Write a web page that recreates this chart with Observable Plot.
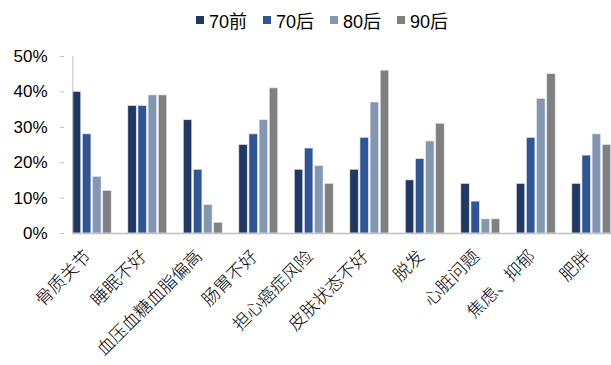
<!DOCTYPE html>
<html>
<head>
<meta charset="utf-8">
<script src="https://cdn.jsdelivr.net/npm/d3@7"></script>
<script src="https://cdn.jsdelivr.net/npm/@observablehq/plot@0.6"></script>
<style>
  html, body { margin: 0; padding: 0; background: #fff; overflow: hidden; }
  #legend {
    height: 38px; display: flex; align-items: center; padding-left: 196px; padding-top: 2px; box-sizing: border-box;
    font-family: "Liberation Sans", Arial, "Noto Sans CJK SC", sans-serif;
    font-size: 18px; color: #000;
  }
  #legend .item { display: flex; align-items: center; margin-right: 16px; }
  #legend .sw { width: 8px; height: 8px; margin-right: 5px; }
</style>
</head>
<body>
<div id="legend"></div>
<div id="chart"></div>
<script>
// Health concerns by generation (share of respondents, %)
const categories = ["骨质关节", "睡眠不好", "血压血糖血脂偏高", "肠胃不好", "担心癌症风险",
                    "皮肤状态不好", "脱发", "心脏问题", "焦虑、抑郁", "肥胖"];
const series = ["70前", "70后", "80后", "90后"];
const colors = ["#1f3864", "#2f5597", "#8497b0", "#808080"];

const pre70  = [40, 36, 32, 25, 18, 18, 15, 14, 14, 14];
const post70 = [28, 36, 18, 28, 24, 27, 21,  9, 27, 22];
const post80 = [16, 39,  8, 32, 19, 37, 26,  4, 38, 28];
const post90 = [12, 39,  3, 41, 14, 46, 31,  4, 45, 25];
const yTicks = [0, 10, 20, 30, 40, 50];

const values = [pre70, post70, post80, post90];
const data = categories.flatMap((c, i) =>
  series.map((s, j) => ({category: c, series: s, value: values[j][i]})));

// Legend
const legend = d3.select("#legend");
series.forEach((s, j) => {
  const item = legend.append("div").attr("class", "item");
  item.append("div").attr("class", "sw").style("background", colors[j]);
  item.append("span").text(s);
});

const W = 619, ML = 64, MR = 0;
const fxPadOuter = 0.15;
// offset of the first facet from the left margin, so the y axis sits on the frame edge
const facetOffset = fxPadOuter * (W - ML - MR) / categories.length;

const chart = Plot.plot({
  width: W,
  height: 327,
  marginTop: 18,
  marginBottom: 132,
  marginLeft: ML,
  marginRight: MR,
  style: {maxWidth: "none", background: "white", fontFamily: "'Liberation Sans', Arial, sans-serif", overflow: "visible"},
  fx: {domain: categories, paddingInner: 0.3, paddingOuter: fxPadOuter, round: false, label: null},
  x: {domain: series, paddingInner: 0.17, paddingOuter: 0, round: false, axis: null},
  y: {domain: [0, 50], label: null},
  color: {domain: series, range: colors},
  marks: [
    Plot.barY(data, {fx: "category", x: "series", y: "value", fill: "series",
                     stroke: "#e4e8ee", strokeWidth: 0.6}),
    // axis lines spanning the whole frame (bottom edge sits at 0%)
    Plot.frame({anchor: "bottom", stroke: "#c0c0c0", strokeWidth: 1.5, facet: "super"}),
    Plot.frame({anchor: "left", stroke: "#c0c0c0", facet: "super"}),
    Plot.axisY({ticks: yTicks, tickFormat: d => d + "%", tickSize: 4, tickPadding: 13,
                dx: -facetOffset, fontSize: 17, stroke: "#c0c0c0", fill: "#000", label: null}),
    Plot.axisFx({anchor: "bottom", tickRotate: -45, tickSize: 0, tickPadding: 20, dx: -4,
                 fontSize: 17.5, fontWeight: 300, fontFamily: "'Noto Sans CJK SC'", fill: "#000", label: null})
  ]
});
document.getElementById("chart").append(chart);
</script>
</body>
</html>
